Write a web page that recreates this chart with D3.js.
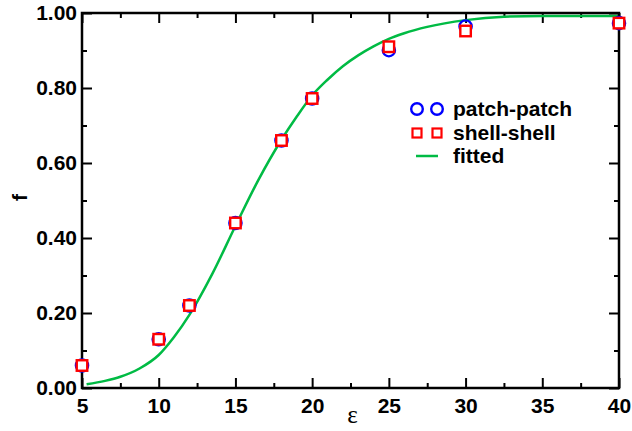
<!DOCTYPE html>
<html>
<head>
<meta charset="utf-8">
<script src="https://cdn.jsdelivr.net/npm/d3@7"></script>
<style>
  html, body { margin: 0; padding: 0; background: #fff; }
  svg { display: block; }
  .tick text { font-family: "Liberation Sans", Arial, Helvetica, sans-serif; font-weight: bold; font-size: 21px; fill: #000; }
</style>
</head>
<body>
<svg id="chart" width="632" height="431"></svg>
<script>
// Interaction strength values
const epsilon = [5, 10, 12, 15, 18, 20, 25, 30, 40];
// Fraction f for each model
const patchPatch = [0.06, 0.13, 0.22, 0.44, 0.66, 0.772, 0.901, 0.964, 0.973];
const shellShell = [0.06, 0.13, 0.22, 0.44, 0.66, 0.772, 0.910, 0.952, 0.973];
// Sampled fitted curve
const fitX = [5.3, 6.5, 7.5, 8.75, 10, 11, 12, 13.5, 15, 16.5, 18, 19, 20, 21, 22, 23, 24, 25, 26, 27.5, 30, 32.5, 35, 40];
const fitY = [0.010, 0.019, 0.030, 0.052, 0.088, 0.136, 0.195, 0.305, 0.432, 0.555, 0.662, 0.724, 0.780, 0.822, 0.858, 0.887, 0.911, 0.931, 0.946, 0.963, 0.981, 0.990, 0.992, 0.992];
// Tick values and labels
const xMajor = [5, 10, 15, 20, 25, 30, 35, 40];
const xMinor = [7.5, 12.5, 17.5, 22.5, 27.5, 32.5, 37.5];
const yMajor = [0, 0.2, 0.4, 0.6, 0.8, 1.0];
const yMinor = [0.1, 0.3, 0.5, 0.7, 0.9];
const legendLabels = ["patch-patch", "shell-shell", "fitted"];

const svg = d3.select("#chart");
const plotL = 82, plotR = 619, plotT = 13, plotB = 388;

const x = d3.scaleLinear().domain([5, 40]).range([plotL, plotR]);
const y = d3.scaleLinear().domain([0, 1]).range([plotB, plotT]);

const blue = "#0000ff", red = "#ff0000", green = "#00bb44";

function styleAxis(g) {
  g.select(".domain").remove();
  g.selectAll(".tick line").attr("stroke", "#000").attr("stroke-width", 2);
}

// Bottom axis with labels, major + minor inward ticks
svg.append("g").attr("transform", `translate(0,${plotB})`)
  .call(d3.axisBottom(x).tickValues(xMajor).tickSize(-10).tickPadding(8).tickFormat(d3.format("d")))
  .call(styleAxis)
  .selectAll("text").attr("dy", "0.71em").attr("y", 10);
svg.append("g").attr("transform", `translate(0,${plotB})`)
  .call(d3.axisBottom(x).tickValues(xMinor).tickSize(-5).tickFormat(""))
  .call(styleAxis);
// Top axis
svg.append("g").attr("transform", `translate(0,${plotT})`)
  .call(d3.axisTop(x).tickValues(xMajor).tickSize(-10).tickFormat(""))
  .call(styleAxis);
svg.append("g").attr("transform", `translate(0,${plotT})`)
  .call(d3.axisTop(x).tickValues(xMinor).tickSize(-5).tickFormat(""))
  .call(styleAxis);
// Left axis with labels
svg.append("g").attr("transform", `translate(${plotL},0)`)
  .call(d3.axisLeft(y).tickValues(yMajor).tickSize(-10).tickPadding(5).tickFormat(d3.format(".2f")))
  .call(styleAxis)
  .selectAll("text").attr("x", -5);
svg.append("g").attr("transform", `translate(${plotL},0)`)
  .call(d3.axisLeft(y).tickValues(yMinor).tickSize(-5).tickFormat(""))
  .call(styleAxis);
// Right axis
svg.append("g").attr("transform", `translate(${plotR},0)`)
  .call(d3.axisRight(y).tickValues(yMajor).tickSize(-10).tickFormat(""))
  .call(styleAxis);
svg.append("g").attr("transform", `translate(${plotR},0)`)
  .call(d3.axisRight(y).tickValues(yMinor).tickSize(-5).tickFormat(""))
  .call(styleAxis);

// Fitted curve
const fit = fitX.map((v, i) => [v, fitY[i]]);
svg.append("path")
  .datum(fit)
  .attr("fill", "none")
  .attr("stroke", green)
  .attr("stroke-width", 2.5)
  .attr("d", d3.line().x(d => x(d[0])).y(d => y(d[1])).curve(d3.curveMonotoneX));

// Frame
svg.append("rect")
  .attr("x", plotL).attr("y", plotT)
  .attr("width", plotR - plotL).attr("height", plotB - plotT)
  .attr("fill", "none").attr("stroke", "#000").attr("stroke-width", 2.5);

// patch-patch markers
svg.append("g").selectAll("circle")
  .data(epsilon.map((e, i) => [e, patchPatch[i]]))
  .join("circle")
  .attr("cx", d => x(d[0])).attr("cy", d => y(d[1]))
  .attr("r", 6.2)
  .attr("fill", "none").attr("stroke", blue).attr("stroke-width", 2.2);

// shell-shell markers
const sq = 10.5;
svg.append("g").selectAll("rect")
  .data(epsilon.map((e, i) => [e, shellShell[i]]))
  .join("rect")
  .attr("x", d => x(d[0]) - sq / 2).attr("y", d => y(d[1]) - sq / 2)
  .attr("width", sq).attr("height", sq)
  .attr("fill", "#fff").attr("stroke", red).attr("stroke-width", 2.4);

// Axis titles
svg.append("text")
  .attr("x", (plotL + plotR) / 2 + 2).attr("y", 423)
  .attr("text-anchor", "middle")
  .attr("font-family", "'Liberation Serif', 'Times New Roman', serif")
  .attr("font-size", 25)
  .text("ε");
svg.append("text")
  .attr("transform", `translate(27,${(plotT + plotB) / 2 - 3}) rotate(-90)`)
  .attr("text-anchor", "middle")
  .attr("font-family", "'Liberation Sans', Arial, sans-serif")
  .attr("font-weight", "bold")
  .attr("font-size", 21)
  .text("f");

// Legend
const lg = svg.append("g");
const lx1 = 417, lx2 = 437, tx = 453;
const rows = [109, 133, 156];
[lx1, lx2].forEach(cx => {
  lg.append("circle").attr("cx", cx).attr("cy", rows[0]).attr("r", 5.8)
    .attr("fill", "none").attr("stroke", blue).attr("stroke-width", 2.4);
  lg.append("rect").attr("x", cx - 4.5).attr("y", rows[1] - 4.5).attr("width", 9).attr("height", 9)
    .attr("fill", "#fff").attr("stroke", red).attr("stroke-width", 2.2);
});
lg.append("line").attr("x1", lx1 - 1).attr("x2", lx2 + 1).attr("y1", rows[2]).attr("y2", rows[2])
  .attr("stroke", green).attr("stroke-width", 2.5);
lg.selectAll("text.lab")
  .data(legendLabels)
  .join("text")
  .attr("class", "lab")
  .attr("x", tx).attr("y", (d, i) => rows[i] + 7)
  .attr("font-family", "'Liberation Sans', Arial, sans-serif")
  .attr("font-weight", "bold")
  .attr("font-size", 21)
  .text(d => d);
</script>
</body>
</html>
